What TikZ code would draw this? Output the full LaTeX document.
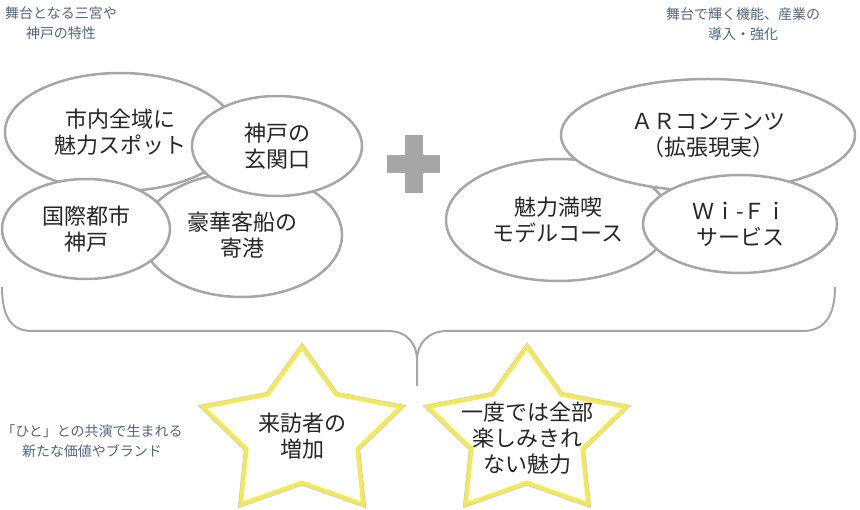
\documentclass[tikz,border=0pt]{standalone}
\usepackage{fontspec}
\setmainfont{Noto Sans CJK JP}
\usetikzlibrary{shapes.geometric}
\definecolor{ringgray}{RGB}{166,166,166}
\definecolor{noteblue}{RGB}{84,100,122}
\definecolor{staryellow}{RGB}{244,232,84}
\tikzset{bubble/.style = {ellipse, draw=ringgray, line width=2.5pt, fill=white,
    inner sep=0pt, align=center, text=black!85, font=\fontsize{22}{26}\selectfont},
  note/.style = {text=noteblue, align=center, font=\fontsize{14}{20}\selectfont},
  startext/.style = {align=center, text=black!85, font=\fontsize{22}{26}\selectfont},
  starline/.style = {draw=staryellow, line width=4pt, fill=white,
    preaction={draw=gray!40, line width=5.5pt}},
  fivestar/.pic = {\draw[starline] (0,-87) \foreach \i in {1,...,9}
    {-- ({104*(0.78+0.22*cos(180*\i))*cos(90+36*\i)},{-87*(0.78+0.22*cos(180*\i))*sin(90+36*\i)})} -- cycle;}}
\begin{document}
\begin{tikzpicture}[x=1pt,y=-1pt]
    \useasboundingbox (0,0) rectangle (860,510);

    % captions
    \node[note] (stageleft) at (61,23) {舞台となる三宮や\\神戸の特性};
    \node[note] (stageright) at (743,24) {舞台で輝く機能、産業の\\導入・強化};
    \node[note] (brand) at (92,441) {「ひと」との共演で生まれる\\新たな価値やブランド};

    % left group
    \node[bubble, minimum width=230pt, minimum height=118pt] (spots) at (120,132) {市内全域に\\魅力スポット};
    \node[bubble, minimum width=200pt, minimum height=124pt] (cruise) at (242,235) {豪華客船の\\寄港};
    \node[bubble, minimum width=168pt, minimum height=100pt] (intl) at (86,229) {国際都市\\神戸};
    \node[bubble, minimum width=170pt, minimum height=100pt] (gate) at (277,146) {神戸の\\玄関口};

    % plus
    \fill[ringgray] (405,135) rectangle (423,193);
    \fill[ringgray] (387,155) rectangle (440,173);

    % right group
    \node[bubble, minimum width=224pt, minimum height=122pt] (course) at (558,220) {魅力満喫\\モデルコース};
    \node[bubble, minimum width=294pt, minimum height=112pt] (ar) at (708,135) {ＡＲコンテンツ\\（拡張現実）};
    \node[bubble, minimum width=194pt, minimum height=98pt] (wifi) at (740,224) {Ｗｉ-Ｆｉ\\サービス};

    % brace
    \draw[ringgray, line width=2pt] (2,287) .. controls (2,318) and (12,331) .. (32,331)
        -- (388,331) .. controls (408,331) and (417,345) .. (417,360) -- (417,386);
    \draw[ringgray, line width=2pt] (417,360) .. controls (417,345) and (427,331) .. (447,331)
        -- (803,331) .. controls (825,331) and (835,315) .. (835,287);

    % stars
    \pic at (302,434) {fivestar};
    \pic at (527,434) {fivestar};
    \node[startext] (visitors) at (302,436) {来訪者の\\増加};
    \node[startext] (charm) at (527,438) {一度では全部\\楽しみきれ\\ない魅力};
\end{tikzpicture}
\end{document}
